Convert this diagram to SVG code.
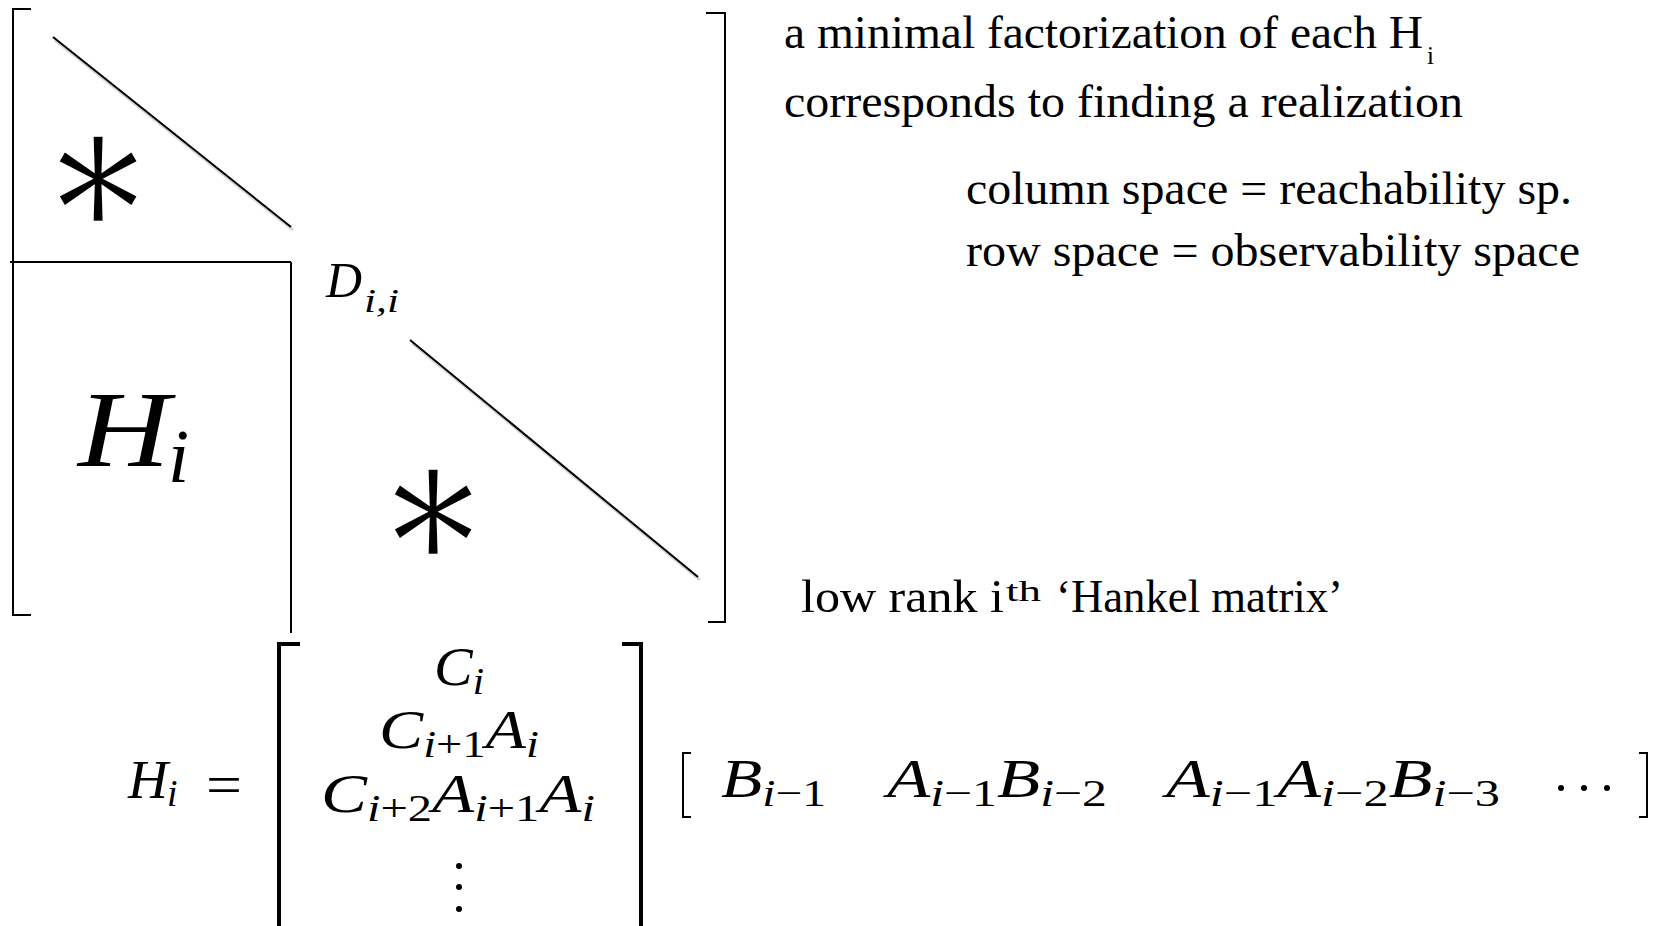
<svg xmlns="http://www.w3.org/2000/svg" width="1668" height="926" viewBox="0 0 1668 926">
<style>
.ln{stroke:#000;stroke-width:2;fill:none}
.sh{stroke:#000;stroke-opacity:0.16;stroke-width:3;fill:none}
.tk{stroke:#000;stroke-width:4;fill:none}
.t{font-family:"Liberation Serif","Times New Roman",serif;fill:#000}
.m{font-family:"Liberation Serif","Times New Roman",serif;font-style:italic;fill:#000}
.up{font-style:normal}
.ast{font-family:"DejaVu Serif",serif;font-size:190px;fill:#000;stroke:#fff;stroke-width:2.5;text-anchor:middle}
</style>
<g id="matrix">
<path class="ln" d="M31,9 H13 V615 H31"/>
<path class="ln" d="M706,13 H725 V622 H708"/>
<line class="ln" x1="10" y1="262" x2="291" y2="262"/>
<line class="ln" x1="291" y1="262" x2="291" y2="633"/>
</g>
<g id="diagonals">
<line class="sh" x1="55" y1="40" x2="293" y2="230"/>
<line class="ln" x1="53" y1="37" x2="291" y2="227"/>
<line class="sh" x1="412" y1="343" x2="700" y2="580"/>
<line class="ln" x1="410" y1="340" x2="698" y2="577"/>
</g>
<g id="block-star-top"><text class="ast" transform="translate(98,238) scale(0.9,1)" x="0" y="0">∗</text></g>
<g id="block-star-bottom"><text class="ast" transform="translate(433,571) scale(0.9,1)" x="0" y="0">∗</text></g>
<g id="block-D">
<text class="m" x="326" y="297" font-size="50" textLength="36" lengthAdjust="spacingAndGlyphs">D</text>
<text class="m" x="364" y="312" font-size="33" textLength="35" lengthAdjust="spacingAndGlyphs">i,i</text>
</g>
<g id="block-H">
<text class="m" x="78" y="466" font-size="108" textLength="92" lengthAdjust="spacingAndGlyphs">H</text>
<text class="m" x="168" y="482" font-size="76">i</text>
</g>
<g id="notes">
<text class="t" x="784" y="48" font-size="47" textLength="639" lengthAdjust="spacingAndGlyphs">a minimal factorization of each H</text>
<text class="t" x="1427" y="64" font-size="25">i</text>
<text class="t" x="784" y="117" font-size="47" textLength="679" lengthAdjust="spacingAndGlyphs">corresponds to finding a realization</text>
<text class="t" x="966" y="204" font-size="47" textLength="606" lengthAdjust="spacingAndGlyphs">column space = reachability sp.</text>
<text class="t" x="966" y="266" font-size="47" textLength="614" lengthAdjust="spacingAndGlyphs">row space = observability space</text>
<text class="t" x="801" y="612" font-size="47" textLength="203" lengthAdjust="spacingAndGlyphs">low rank i</text>
<text class="t" x="1006" y="601" font-size="30" textLength="35" lengthAdjust="spacingAndGlyphs">th</text>
<text class="t" x="1056" y="612" font-size="47" textLength="287" lengthAdjust="spacingAndGlyphs">‘Hankel matrix’</text>
</g>
<g id="equation">
<text class="m" x="128" y="798" font-size="54" textLength="40" lengthAdjust="spacingAndGlyphs">H</text>
<text class="m" x="167" y="806" font-size="38">i</text>
<text class="t" x="206" y="804" font-size="56" textLength="36" lengthAdjust="spacingAndGlyphs">=</text>
<path class="tk" d="M300,644 H279 V926"/>
<path class="tk" d="M622,644 H641 V926"/>
<text class="m" x="434" y="685" font-size="54" textLength="50" lengthAdjust="spacingAndGlyphs">C<tspan font-size="38" dy="9">i</tspan></text>
<text class="m" x="379" y="748" font-size="54" textLength="160" lengthAdjust="spacingAndGlyphs">C<tspan font-size="38" dy="9">i<tspan class="up">+1</tspan></tspan><tspan dy="-9">A</tspan><tspan font-size="38" dy="9">i</tspan></text>
<text class="m" x="321" y="812" font-size="54" textLength="274" lengthAdjust="spacingAndGlyphs">C<tspan font-size="38" dy="9">i<tspan class="up">+2</tspan></tspan><tspan dy="-9">A</tspan><tspan font-size="38" dy="9">i<tspan class="up">+1</tspan></tspan><tspan dy="-9">A</tspan><tspan font-size="38" dy="9">i</tspan></text>
<circle cx="459" cy="866" r="3"/>
<circle cx="459" cy="887" r="3"/>
<circle cx="459" cy="909" r="3"/>
<path class="ln" d="M691,753 H683 V817 H691"/>
<path class="ln" d="M1639,753 H1647 V817 H1639"/>
<text class="m" x="721" y="797" font-size="54" textLength="105" lengthAdjust="spacingAndGlyphs">B<tspan font-size="38" dy="9">i<tspan class="up">−1</tspan></tspan></text>
<text class="m" x="887" y="797" font-size="54" textLength="220" lengthAdjust="spacingAndGlyphs">A<tspan font-size="38" dy="9">i<tspan class="up">−1</tspan></tspan><tspan dy="-9">B</tspan><tspan font-size="38" dy="9">i<tspan class="up">−2</tspan></tspan></text>
<text class="m" x="1166" y="797" font-size="54" textLength="334" lengthAdjust="spacingAndGlyphs">A<tspan font-size="38" dy="9">i<tspan class="up">−1</tspan></tspan><tspan dy="-9">A</tspan><tspan font-size="38" dy="9">i<tspan class="up">−2</tspan></tspan><tspan dy="-9">B</tspan><tspan font-size="38" dy="9">i<tspan class="up">−3</tspan></tspan></text>
<circle cx="1561" cy="788" r="3"/>
<circle cx="1584" cy="788" r="3"/>
<circle cx="1607" cy="788" r="3"/>
</g>
</svg>
